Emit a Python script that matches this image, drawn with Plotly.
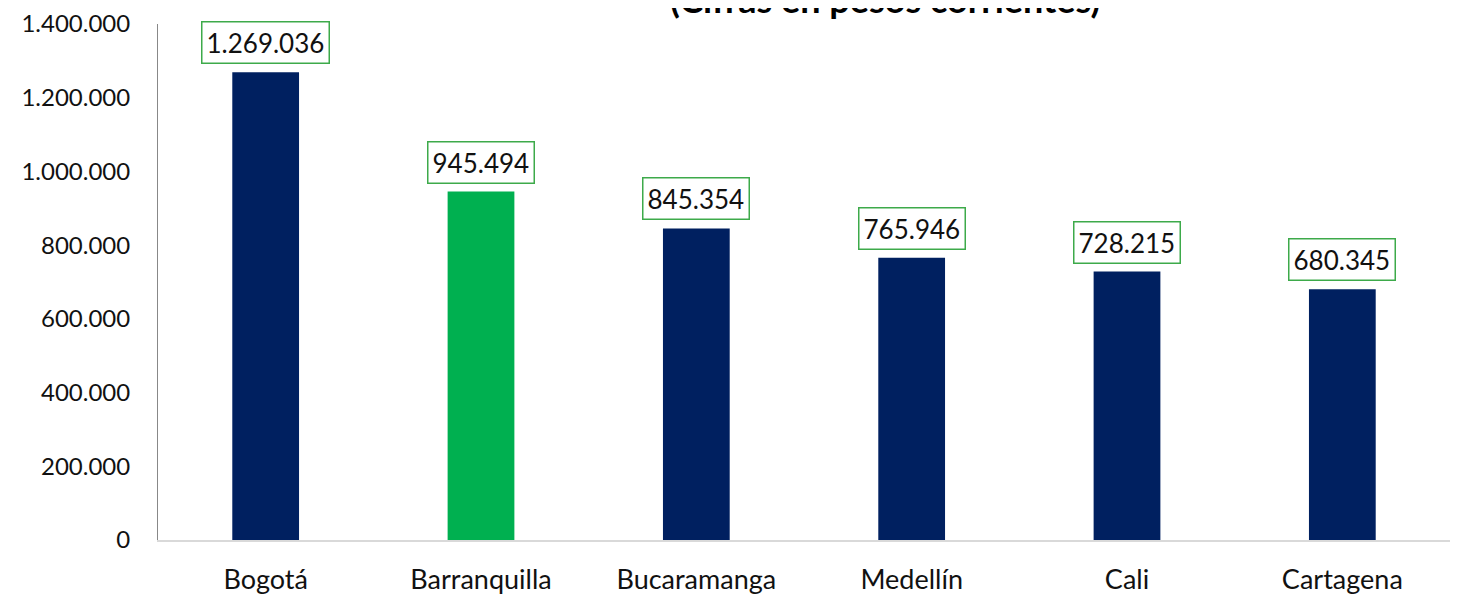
import plotly.graph_objects as go

# data
cities = ["Bogotá", "Barranquilla", "Bucaramanga", "Medellín", "Cali", "Cartagena"]
values = [1269036, 945494, 845354, 765946, 728215, 680345]
bar_colors = ["#002060", "#00B050", "#002060", "#002060", "#002060", "#002060"]
y_ticks = [0, 200000, 400000, 600000, 800000, 1000000, 1200000, 1400000]


def fmt(v):
    # thousands separated with dots
    return f"{v:,}".replace(",", ".")


FONT = "Lato"

fig = go.Figure()
fig.add_trace(go.Bar(
    x=cities,
    y=values,
    marker=dict(color=bar_colors, line=dict(width=0)),
    width=0.31,
    hoverinfo="x+y",
))

# boxed value labels above each bar
for c, v in zip(cities, values):
    fig.add_annotation(
        x=c, y=v, xref="x", yref="y",
        text=fmt(v),
        showarrow=False,
        yanchor="bottom",
        yshift=8,
        font=dict(family=FONT, size=26, color="#111111"),
        bgcolor="white",
        bordercolor="#3DAA4A",
        borderwidth=1.5,
        borderpad=4,
    )

# title, mostly cut off at the top of the picture (as in the source)
fig.add_annotation(
    x=0.563, y=1.048, xref="paper", yref="paper",
    text="<b>(Cifras en pesos corrientes)</b>",
    showarrow=False, yanchor="middle",
    font=dict(family=FONT, size=36, color="black"),
)

# the page body adds 8px at top/left, margins are set with that in mind
fig.update_layout(
    width=1458, height=596,
    margin=dict(l=150, r=16, t=16, b=64, autoexpand=False),
    plot_bgcolor="white",
    paper_bgcolor="white",
    showlegend=False,
    bargap=0.69,
    font=dict(family=FONT, size=24, color="#111111"),
)
fig.update_xaxes(
    automargin=False,
    showline=True, linecolor="#D9D9D9", linewidth=2,
    showgrid=False, ticks="outside", ticklen=15, tickcolor="rgba(0,0,0,0)",
    tickfont=dict(family=FONT, size=27),
)
fig.update_yaxes(
    automargin=False,
    range=[0, 1400000],
    tickvals=y_ticks,
    ticktext=[fmt(t) for t in y_ticks],
    showline=True, linecolor="#888888", linewidth=1,
    showgrid=False, zeroline=False,
    ticks="outside", ticklen=22, tickcolor="rgba(0,0,0,0)",
    tickfont=dict(family=FONT, size=24),
)

fig.write_html("out.html")
